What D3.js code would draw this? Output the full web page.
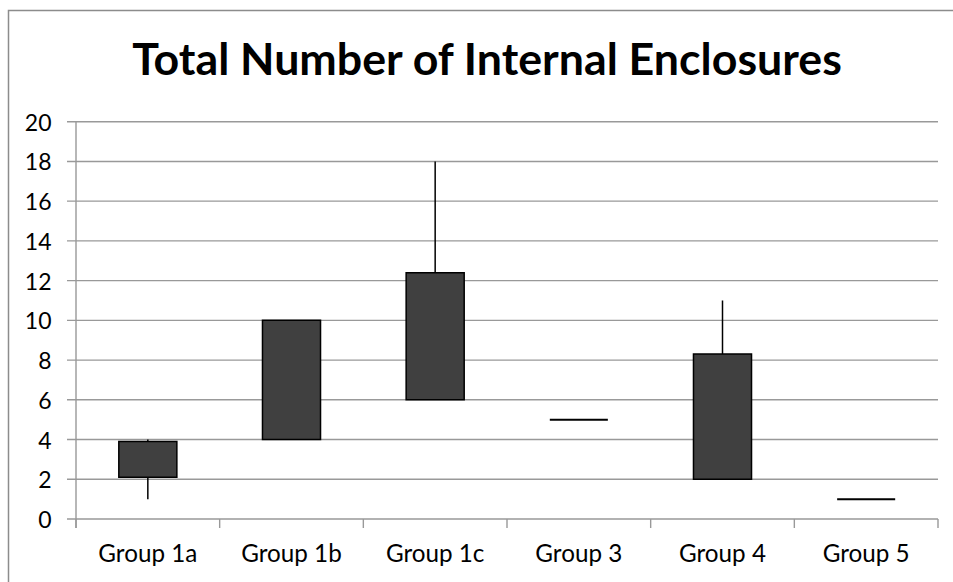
<!DOCTYPE html>
<html>
<head>
<meta charset="utf-8">
<script src="https://cdn.jsdelivr.net/npm/d3@7/dist/d3.min.js"></script>
<style>
  html, body { margin: 0; padding: 0; background: #fff; }
  svg { display: block; }
</style>
</head>
<body>
<svg id="chart" width="953" height="582"></svg>
<script>
// ---- data ----
const chartTitle = "Total Number of Internal Enclosures";
const categories = ["Group 1a", "Group 1b", "Group 1c", "Group 3", "Group 4", "Group 5"];
const lowValues     = [1,   4,  6,    5, 2,   1];
const boxLowValues  = [2.1, 4,  6,    5, 2,   1];
const boxHighValues = [3.9, 10, 12.4, 5, 8.3, 1];
const highValues    = [4,   10, 18,   5, 11,  1];
const yTickValues   = [0, 2, 4, 6, 8, 10, 12, 14, 16, 18, 20];

// ---- layout ----
const W = 953, H = 582;
const plot = { left: 76, right: 938, top: 121.7, bottom: 519 };
const FONT = "Lato, 'Open Sans', 'DejaVu Sans', sans-serif";
const gridColor = "#999999";

const svg = d3.select("#chart");

// outer frame (extends beyond right/bottom edges as in reference)
svg.append("rect")
  .attr("x", 8.5).attr("y", 10.5)
  .attr("width", 1000).attr("height", 1000)
  .attr("fill", "#fff").attr("stroke", "#8c8c8c").attr("stroke-width", 1.5);

const x = d3.scaleBand().domain(categories).range([plot.left, plot.right]).padding(0);
const y = d3.scaleLinear().domain([0, 20]).range([plot.bottom, plot.top]);

// helper: fit font size to a target width
function fitSize(text, weight, targetWidth) {
  const t = svg.append("text").attr("font-family", FONT).attr("font-weight", weight)
    .attr("font-size", 100).text(text);
  const w = t.node().getComputedTextLength();
  t.remove();
  return 100 * targetWidth / w;
}

// gridlines
svg.append("g").selectAll("line").data(yTickValues.filter(v => v !== 0)).join("line")
  .attr("x1", plot.left - 9).attr("x2", plot.right)
  .attr("y1", d => y(d)).attr("y2", d => y(d))
  .attr("stroke", gridColor).attr("stroke-width", 1.4);

// y axis line + ticks
svg.append("line")
  .attr("x1", plot.left).attr("x2", plot.left)
  .attr("y1", plot.top).attr("y2", plot.bottom + 9)
  .attr("stroke", gridColor).attr("stroke-width", 1.4);
svg.append("line")
  .attr("x1", plot.left - 9).attr("x2", plot.right)
  .attr("y1", y(0)).attr("y2", y(0))
  .attr("stroke", gridColor).attr("stroke-width", 1.4);

// x category ticks at band boundaries
const boundaries = categories.map(c => x(c) + x.bandwidth()).concat([x(categories[0])]);
svg.append("g").selectAll("line").data(boundaries).join("line")
  .attr("x1", d => d).attr("x2", d => d)
  .attr("y1", y(0)).attr("y2", y(0) + 9)
  .attr("stroke", gridColor).attr("stroke-width", 1.4);

// y tick labels
const yFont = fitSize("20", 400, 26.7);
svg.append("g").selectAll("text").data(yTickValues).join("text")
  .attr("x", 51.5).attr("y", d => y(d))
  .attr("text-anchor", "end").attr("dominant-baseline", "central")
  .attr("font-family", FONT).attr("font-size", yFont).attr("fill", "#000")
  .text(d => d);

// x labels
const xFont = fitSize("Group 1a", 400, 99);
svg.append("g").selectAll("text").data(categories).join("text")
  .attr("x", d => x(d) + x.bandwidth() / 2).attr("y", 561.5)
  .attr("text-anchor", "middle")
  .attr("font-family", FONT).attr("font-size", xFont).attr("fill", "#000")
  .text(d => d);

// boxes and whiskers
const boxW = x.bandwidth() * 0.404;
const g = svg.append("g");
categories.forEach((c, i) => {
  const cx = x(c) + x.bandwidth() / 2;
  // whisker
  g.append("line")
    .attr("x1", cx).attr("x2", cx)
    .attr("y1", y(highValues[i])).attr("y2", y(lowValues[i]))
    .attr("stroke", "#000").attr("stroke-width", 1.5);
  const x0 = cx - boxW / 2, x1 = cx + boxW / 2;
  const yTop = y(boxHighValues[i]), yBot = y(boxLowValues[i]);
  g.append("path")
    .attr("d", `M${x0},${yTop}H${x1}V${yBot}H${x0}Z`)
    .attr("fill", "#404040").attr("stroke", "#000")
    .attr("stroke-width", yTop === yBot ? 2 : 1.5);
});

// title
const tFont = fitSize(chartTitle, 700, 710);
svg.append("text")
  .attr("x", 487).attr("y", 75)
  .attr("text-anchor", "middle")
  .attr("font-family", FONT).attr("font-weight", 700).attr("font-size", tFont)
  .attr("fill", "#000")
  .text(chartTitle);
</script>
</body>
</html>
